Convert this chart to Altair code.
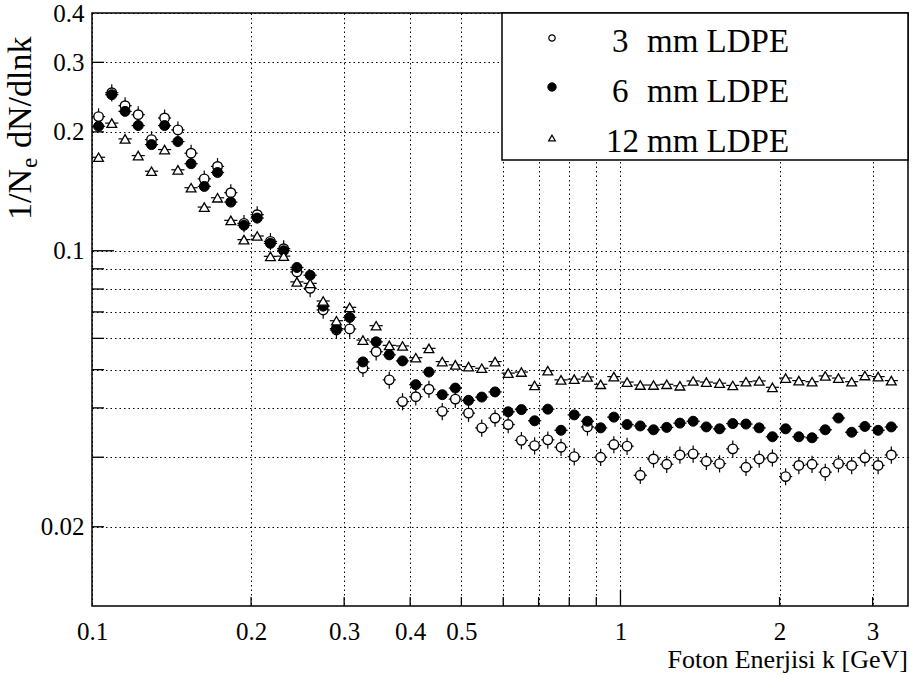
import altair as alt
import pandas as pd

# ---------------- data ----------------
k_gev = [0.1029, 0.1090, 0.1155, 0.1223, 0.1296, 0.1372, 0.1454, 0.1540, 0.1631, 0.1728,
         0.1831, 0.1939, 0.2054, 0.2176, 0.2305, 0.2442, 0.2587, 0.2738, 0.2901, 0.3073,
         0.3256, 0.3449, 0.3652, 0.3869, 0.4099, 0.4341, 0.4600, 0.4870, 0.5158, 0.5464,
         0.5790, 0.6131, 0.6494, 0.6879, 0.7286, 0.7718, 0.8175, 0.8660, 0.9173, 0.9716,
         1.0292, 1.0902, 1.1548, 1.2232, 1.2957, 1.3725, 1.4538, 1.5399, 1.6312, 1.7278,
         1.8302, 1.9387, 2.0535, 2.1752, 2.3041, 2.4406, 2.5852, 2.7384, 2.9007, 3.0726,
         3.2546]

y_3mm = [0.2186, 0.2513, 0.2330, 0.2211, 0.1912, 0.2169, 0.2023, 0.1766, 0.1521, 0.1635,
         0.1403, 0.1173, 0.1234, 0.1056, 0.1012, 0.0884, 0.0803, 0.0708, 0.0630, 0.0634,
         0.0504, 0.0555, 0.0471, 0.0415, 0.0427, 0.0446, 0.0392, 0.0421, 0.0388, 0.0356,
         0.0377, 0.0363, 0.0331, 0.0321, 0.0332, 0.0318, 0.0301, 0.0358, 0.0300, 0.0323,
         0.0320, 0.0270, 0.0297, 0.0288, 0.0304, 0.0306, 0.0293, 0.0289, 0.0315, 0.0283,
         0.0297, 0.0299, 0.0268, 0.0286, 0.0288, 0.0275, 0.0289, 0.0286, 0.0299, 0.0286,
         0.0304]

y_6mm = [0.2066, 0.2484, 0.2254, 0.2075, 0.1857, 0.2075, 0.1890, 0.1661, 0.1455, 0.1578,
         0.1328, 0.1160, 0.1210, 0.1044, 0.1000, 0.0907, 0.0867, 0.0724, 0.0635, 0.0678,
         0.0523, 0.0588, 0.0545, 0.0526, 0.0458, 0.0493, 0.0432, 0.0449, 0.0418, 0.0426,
         0.0439, 0.0391, 0.0396, 0.0371, 0.0397, 0.0351, 0.0384, 0.0370, 0.0356, 0.0379,
         0.0363, 0.0360, 0.0352, 0.0357, 0.0366, 0.0370, 0.0358, 0.0354, 0.0365, 0.0364,
         0.0356, 0.0338, 0.0354, 0.0338, 0.0336, 0.0352, 0.0377, 0.0347, 0.0359, 0.0351,
         0.0358]

y_12mm = [0.1725, 0.2105, 0.1920, 0.1742, 0.1590, 0.1804, 0.1603, 0.1444, 0.1290, 0.1362,
          0.1194, 0.1067, 0.1090, 0.0968, 0.0969, 0.0834, 0.0827, 0.0746, 0.0665, 0.0719,
          0.0594, 0.0646, 0.0576, 0.0574, 0.0536, 0.0566, 0.0524, 0.0514, 0.0509, 0.0504,
          0.0524, 0.0490, 0.0493, 0.0456, 0.0497, 0.0471, 0.0473, 0.0479, 0.0459, 0.0480,
          0.0465, 0.0457, 0.0457, 0.0459, 0.0455, 0.0468, 0.0465, 0.0462, 0.0456, 0.0466,
          0.0468, 0.0451, 0.0476, 0.0469, 0.0466, 0.0482, 0.0476, 0.0466, 0.0483, 0.0480,
          0.0469]

series = ["3 mm LDPE", "6 mm LDPE", "12 mm LDPE"]
rel_err = [0.05, 0.025, 0.015]          # relative vertical error per series
half_bin_log = 0.0125                    # half bin width in log10(k)

x_grid = [0.1, 0.2, 0.3, 0.4, 0.5, 0.6, 0.7, 0.8, 0.9, 1, 2, 3]
x_labels = ["0.1", "0.2", "0.3", "0.4", "0.5", "1", "2", "3"]
y_grid = [0.02, 0.03, 0.04, 0.05, 0.06, 0.07, 0.08, 0.09, 0.1, 0.2, 0.3, 0.4]
y_labels = ["0.02", "0.1", "0.2", "0.3", "0.4"]
x_long_ticks = [1]
x_short_ticks = [0.2, 0.3, 0.4, 0.5, 0.6, 0.7, 0.8, 0.9, 2, 3]
y_long_ticks = [0.1]
y_short_ticks = [0.02, 0.03, 0.04, 0.05, 0.06, 0.07, 0.08, 0.09, 0.2, 0.3]

x_title = "Foton Enerjisi k [GeV]"
y_title_parts = ["1/N", "e", "dN/dlnk"]

# ---------------- build table ----------------
rows = []
for name, vals, e in zip(series, [y_3mm, y_6mm, y_12mm], rel_err):
    for kk, vv in zip(k_gev, vals):
        rows.append({"series": name, "k": kk, "v": vv, "err": e})
df = pd.DataFrame(rows)

FONT = "Liberation Serif, Times New Roman, DejaVu Serif, serif"
W, H = 816, 593
xs = alt.Scale(type="log", domain=[0.1, 3.5], nice=False)
ys = alt.Scale(type="log", domain=[0.0126, 0.4], nice=False)

def lab_expr(labels):
    arr = ",".join("'" + s + "'" for s in labels)
    return "indexof([" + arr + "], datum.label) >= 0 ? datum.label : ''"

xaxis = alt.Axis(values=x_grid, format="~g", labelExpr=lab_expr(x_labels),
                 grid=True, gridDash=[1.5, 3], gridColor="black", gridWidth=1,
                 ticks=False, domain=False, labelFont=FONT, labelFontSize=25,
                 labelColor="black", labelPadding=13, labelOverlap=False,
                 labelFlush=False, title=None)
yaxis = alt.Axis(values=y_grid, format="~g", labelExpr=lab_expr(y_labels),
                 grid=True, gridDash=[1.5, 3], gridColor="black", gridWidth=1,
                 ticks=False, domain=False, labelFont=FONT, labelFontSize=25,
                 labelColor="black", labelPadding=8, labelOverlap=False,
                 labelFlush=False, title=None)

X = lambda f: alt.X(f, scale=xs, axis=xaxis)
Y = lambda f: alt.Y(f, scale=ys, axis=yaxis)

base = alt.Chart(df).transform_calculate(
    klo="datum.k * pow(10, -%f)" % half_bin_log,
    khi="datum.k * pow(10, %f)" % half_bin_log,
    vlo="datum.v * (1 - datum.err)",
    vhi="datum.v * (1 + datum.err)",
)

hbars = base.mark_rule(color="black", strokeWidth=1.2).encode(
    x=X("klo:Q"), x2="khi:Q", y=Y("v:Q"))
vbars = base.mark_rule(color="black", strokeWidth=1.2).encode(
    x=X("k:Q"), y=Y("vlo:Q"), y2="vhi:Q")

p3 = base.transform_filter(alt.datum.series == series[0]).mark_point(
    shape="circle", filled=True, fill="white", stroke="black", strokeWidth=1.4,
    size=90, opacity=1).encode(x=X("k:Q"), y=Y("v:Q"))
p6 = base.transform_filter(alt.datum.series == series[1]).mark_point(
    shape="circle", filled=True, fill="black", stroke="black", strokeWidth=1,
    size=100, opacity=1).encode(x=X("k:Q"), y=Y("v:Q"))
p12 = base.transform_filter(alt.datum.series == series[2]).mark_point(
    shape="triangle-up", filled=True, fill="white", stroke="black", strokeWidth=1.3,
    size=95, opacity=1).encode(x=X("k:Q"), y=Y("v:Q"))

def yticks(vals, length):
    return alt.Chart(pd.DataFrame({"t": vals})).mark_rule(color="black", strokeWidth=1.3).encode(
        y=Y("t:Q"), x=alt.value(0), x2=alt.value(length))

def xticks(vals, length):
    return alt.Chart(pd.DataFrame({"t": vals})).mark_rule(color="black", strokeWidth=1.3).encode(
        x=X("t:Q"), y=alt.value(H), y2=alt.value(H - length))

one = pd.DataFrame({"a": [0]})

legend_box = alt.Chart(one).mark_rect(fill="white", stroke="black", strokeWidth=1.5).encode(
    x=alt.value(410), x2=alt.value(W), y=alt.value(0), y2=alt.value(147))

leg_rows_y = [25, 74, 125]
leg_base_y = [39, 89, 139]
leg_num_x = [520, 520, 514]
leg_marks = [
    dict(shape="circle", fill="white", size=40, strokeWidth=1.2),
    dict(shape="circle", fill="black", size=70, strokeWidth=1),
    dict(shape="triangle-up", fill="white", size=45, strokeWidth=1.2),
]
legend_layers = [legend_box]
for i, name in enumerate(series):
    num, rest = name.split(" ", 1)
    m = leg_marks[i]
    legend_layers.append(alt.Chart(one).mark_point(
        shape=m["shape"], filled=True, fill=m["fill"], stroke="black",
        strokeWidth=m["strokeWidth"], size=m["size"], opacity=1).encode(
        x=alt.value(460), y=alt.value(leg_rows_y[i])))
    legend_layers.append(alt.Chart(one).mark_text(
        text=num, font=FONT, fontSize=33, color="black", align="left",
        baseline="alphabetic").encode(x=alt.value(leg_num_x[i]), y=alt.value(leg_base_y[i])))
    legend_layers.append(alt.Chart(one).mark_text(
        text=rest, font=FONT, fontSize=33, color="black", align="left",
        baseline="alphabetic").encode(x=alt.value(555), y=alt.value(leg_base_y[i])))

# axis titles
Y0 = 207
xt = alt.Chart(one).mark_text(text=x_title, font=FONT, fontSize=26, color="black",
                              align="right", baseline="alphabetic").encode(
    x=alt.value(W), y=alt.value(H + 62))
yt1 = alt.Chart(one).mark_text(text=y_title_parts[0], font=FONT, fontSize=34, color="black",
                               align="left", baseline="alphabetic", angle=270).encode(
    x=alt.value(-61), y=alt.value(Y0))
yt2 = alt.Chart(one).mark_text(text=y_title_parts[1], font=FONT, fontSize=23, color="black",
                               align="left", baseline="alphabetic", angle=270).encode(
    x=alt.value(-55), y=alt.value(Y0 - 52))
yt3 = alt.Chart(one).mark_text(text=y_title_parts[2], font=FONT, fontSize=34, color="black",
                               align="left", baseline="alphabetic", angle=270).encode(
    x=alt.value(-61), y=alt.value(Y0 - 52 - 13 - 7))

chart = alt.layer(
    hbars, vbars, p3, p6, p12,
    yticks(y_long_ticks, 22), yticks(y_short_ticks, 12),
    xticks(x_long_ticks, 16), xticks(x_short_ticks, 9),
    *legend_layers, xt, yt1, yt2, yt3,
).properties(
    width=W, height=H,
    padding={"left": 92, "top": 13, "right": 9, "bottom": 69},
    autosize=alt.AutoSizeParams(type="none"),
    background="white",
).configure_view(stroke="black", strokeWidth=1.5)

chart.save("out.html", embed_options={"renderer": "svg", "actions": False})
